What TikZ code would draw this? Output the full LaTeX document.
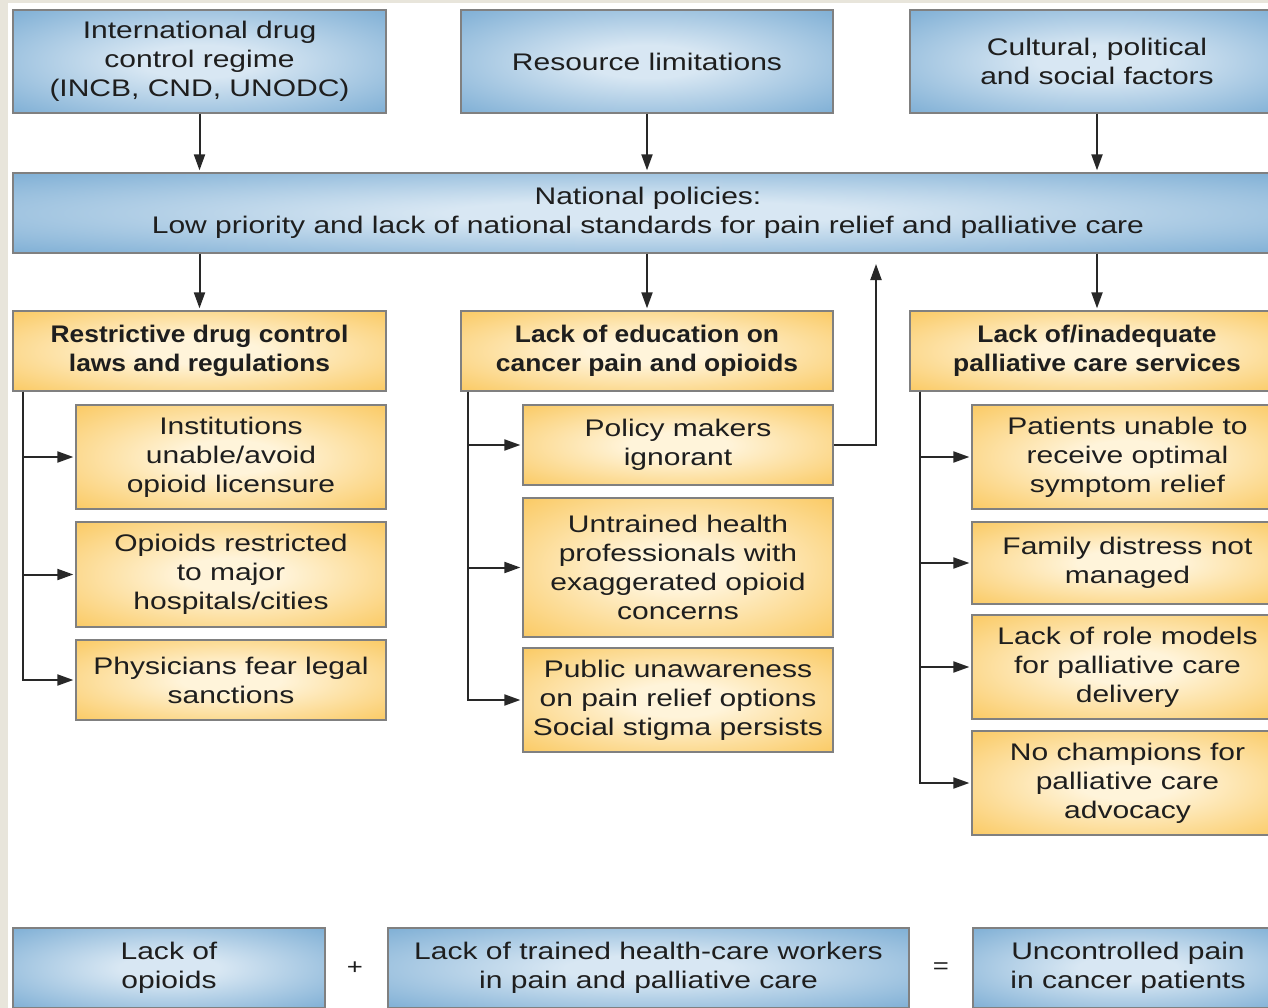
\documentclass[tikz,border=0pt]{standalone}
\usepackage{fontspec}
\setmainfont{Liberation Sans}[FakeStretch=1.25,BoldFeatures={FakeStretch=1.1}]
\usepackage{xcolor}
\usetikzlibrary{arrows.meta}

\definecolor{bluein}{RGB}{216,231,243}
\definecolor{blueout}{RGB}{106,162,206}
\definecolor{orangein}{RGB}{255,244,218}
\definecolor{orangeout}{RGB}{249,192,72}
\definecolor{boxline}{RGB}{128,128,128}
\definecolor{linkgray}{RGB}{40,40,40}
\definecolor{textgray}{RGB}{30,30,30}
\definecolor{paper}{RGB}{232,229,219}

\pgfdeclareradialshading{blueglow}{\pgfpointorigin}{color(0bp)=(bluein); color(8bp)=(bluein); color(42bp)=(blueout); color(75bp)=(blueout)}
\pgfdeclareradialshading{orangeglow}{\pgfpointorigin}{color(0bp)=(orangein); color(8bp)=(orangein); color(42bp)=(orangeout); color(75bp)=(orangeout)}

\begin{document}
\begin{tikzpicture}[x=1pt, y=-1pt,
  box/.style={draw=boxline, line width=1.3pt, align=center, inner sep=0pt, text=textgray, font=\fontsize{24}{29}\selectfont},
  bluebox/.style={box, shade, shading=blueglow},
  orangebox/.style={box, shade, shading=orangeglow},
  headbox/.style={orangebox, font=\fontsize{24}{29}\selectfont\bfseries},
  arr/.style={draw=linkgray, line width=2pt, -{Triangle[length=16pt,width=11pt]}, shorten >=2pt}]
\useasboundingbox (0,0) rectangle (1268,1008);
\clip (0,0) rectangle (1268,1008);
\fill[paper] (0,0) rectangle (1268,1008);
\fill[white] (8,3) rectangle (1268,1008);

% causes
\node[bluebox, minimum width=373pt, minimum height=103pt] (intl) at (199.5,61.5) {International drug\\control regime\\(INCB, CND, UNODC)};
\node[bluebox, minimum width=372pt, minimum height=103pt] (resource) at (647,61.5) {Resource limitations};
\node[bluebox, minimum width=374pt, minimum height=103pt] (cultural) at (1097,61.5) {Cultural, political\\and social factors};
\node[bluebox, minimum width=1270pt, minimum height=80pt] (national) at (648,213) {National policies:\\Low priority and lack of national standards for pain relief and palliative care};

% barriers
\node[headbox, minimum width=373pt, minimum height=80pt] (laws) at (199.5,351) {Restrictive drug control\\laws and regulations};
\node[headbox, minimum width=372pt, minimum height=80pt] (educ) at (647,351) {Lack of education on\\cancer pain and opioids};
\node[headbox, minimum width=374pt, minimum height=80pt] (services) at (1097,351) {Lack of/inadequate\\palliative care services};

\node[orangebox, minimum width=310pt, minimum height=104pt] (licence) at (231,457) {Institutions\\unable/avoid\\opioid licensure};
\node[orangebox, minimum width=310pt, minimum height=105pt] (cities) at (231,574.5) {Opioids restricted\\to major\\hospitals/cities};
\node[orangebox, minimum width=310pt, minimum height=80pt] (sanctions) at (231,680) {Physicians fear legal\\sanctions};

\node[orangebox, minimum width=310pt, minimum height=80pt] (makers) at (678,445) {Policy makers\\ignorant};
\node[orangebox, minimum width=310pt, minimum height=139pt] (untrained) at (678,567.5) {Untrained health\\professionals with\\exaggerated opioid\\concerns};
\node[orangebox, minimum width=310pt, minimum height=104pt] (public) at (678,700) {Public unawareness\\on pain relief options\\Social stigma persists};

\node[orangebox, minimum width=311pt, minimum height=104pt] (relief) at (1127.5,457) {Patients unable to\\receive optimal\\symptom relief};
\node[orangebox, minimum width=311pt, minimum height=82pt] (family) at (1127.5,563) {Family distress not\\managed};
\node[orangebox, minimum width=311pt, minimum height=104pt] (models) at (1127.5,667) {Lack of role models\\for palliative care\\delivery};
\node[orangebox, minimum width=311pt, minimum height=104pt] (champions) at (1127.5,783) {No champions for\\palliative care\\advocacy};

% summary
\node[bluebox, minimum width=312pt, minimum height=80pt] (opioids) at (169,968) {Lack of\\opioids};
\node[bluebox, minimum width=521pt, minimum height=80pt] (workers) at (648.5,968) {Lack of trained health-care workers\\in pain and palliative care};
\node[bluebox, minimum width=310pt, minimum height=80pt] (pain) at (1128,968) {Uncontrolled pain\\in cancer patients};
\node[text=textgray, font=\fontsize{22}{26}\selectfont] (plus) at (355,968) {+};
\node[text=textgray, font=\fontsize{22}{26}\selectfont] (equals) at (941,968) {=};

% arrows
\draw[arr] (intl.south) -- (intl.south |- national.north);
\draw[arr] (resource.south) -- (resource.south |- national.north);
\draw[arr] (cultural.south) -- (cultural.south |- national.north);
\draw[arr] (national.south -| laws.north) -- (laws.north);
\draw[arr] (national.south -| educ.north) -- (educ.north);
\draw[arr] (national.south -| services.north) -- (services.north);

\draw[arr] ([xshift=11pt]laws.south west) |- (licence.west);
\draw[arr] ([xshift=11pt]laws.south west) |- (cities.west);
\draw[arr] ([xshift=11pt]laws.south west) |- (sanctions.west);

\draw[arr] ([xshift=8pt]educ.south west) |- (makers.west);
\draw[arr] ([xshift=8pt]educ.south west) |- (untrained.west);
\draw[arr] ([xshift=8pt]educ.south west) |- (public.west);
\coordinate (back) at (876,262);
\draw[arr] (makers.east) -| (back);

\draw[arr] ([xshift=11pt]services.south west) |- (relief.west);
\draw[arr] ([xshift=11pt]services.south west) |- (family.west);
\draw[arr] ([xshift=11pt]services.south west) |- (models.west);
\draw[arr] ([xshift=11pt]services.south west) |- (champions.west);
\end{tikzpicture}
\end{document}
